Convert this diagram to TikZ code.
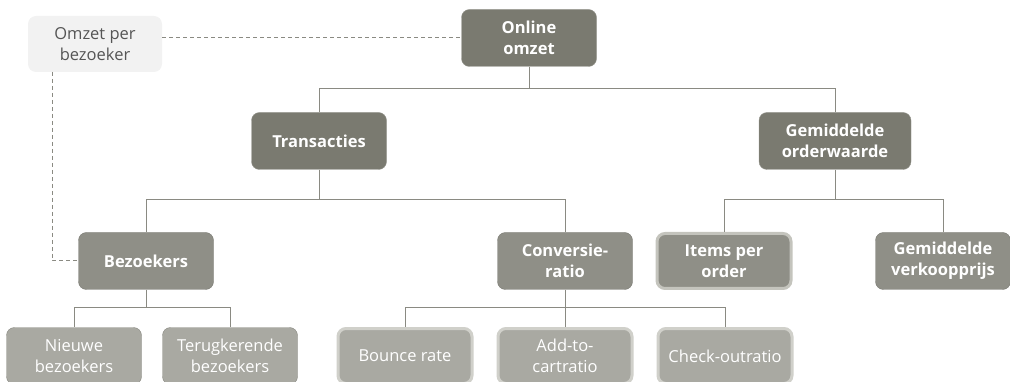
\documentclass[tikz,border=0pt]{standalone}
\usepackage{fontspec}
\setmainfont{Open Sans}
\definecolor{topgray}{HTML}{7A7A70}
\definecolor{midgray}{HTML}{8F8F87}
\definecolor{lowgray}{HTML}{A9A9A2}
\definecolor{linegray}{HTML}{8A8A82}
\definecolor{halo}{HTML}{C4C4BD}
\definecolor{notegray}{HTML}{F2F2F2}
\definecolor{notetext}{HTML}{555555}
\begin{document}
\begin{tikzpicture}[
    x=1pt, y=-1pt,
    kpi/.style={
        rectangle, rounded corners=8pt, align=center,
        minimum width=135pt, minimum height=57pt, inner xsep=4pt,
        font=\fontsize{16.5}{21}\selectfont, text=white
    },
    level1/.style={kpi, fill=topgray, draw=topgray!80!white, font=\fontsize{16.5}{21}\selectfont\bfseries},
    level2/.style={kpi, fill=midgray, draw=midgray!85!black, font=\fontsize{16.5}{21}\selectfont\bfseries},
    level2h/.style={level2, draw=halo, line width=3pt, minimum width=134pt, minimum height=55pt},
    level3/.style={kpi, fill=lowgray, draw=linegray},
    level3h/.style={level3, draw=halo!80!white, line width=3pt, minimum width=134pt, minimum height=55pt},
    note/.style={
        rectangle, rounded corners=8pt, align=center, fill=notegray,
        minimum width=134pt, minimum height=56pt,
        font=\fontsize{16.5}{21}\selectfont, text=notetext
    },
    link/.style={draw=linegray, line width=1pt},
    hint/.style={draw=linegray, line width=1pt, dash pattern=on 4pt off 3pt}
]
\useasboundingbox (0,0) rectangle (1010,382);
\clip (0,0) rectangle (1010,382);

% Top
\node[level1] (online) at (529,38) {Online\\omzet};
\node[note] (perbez) at (95,44) {Omzet per\\bezoeker};

% Second level
\node[level1] (trans) at (319,141) {Transacties};
\node[level1, minimum width=152pt] (orderw) at (835,141) {Gemiddelde\\orderwaarde};

% Third level
\node[level2] (bez) at (146,261) {Bezoekers};
\node[level2] (conv) at (565,261) {Conversie-\\ratio};
\node[level2h] (items) at (724,261) {Items per\\order};
\node[level2] (prijs) at (943,261) {Gemiddelde\\verkoopprijs};

% Bottom level
\node[level3] (nieuw) at (74,356) {Nieuwe\\bezoekers};
\node[level3] (terug) at (230,356) {Terugkerende\\bezoekers};
\node[level3h] (bounce) at (405,356) {Bounce rate};
\node[level3h] (cart) at (565,356) {Add-to-\\cartratio};
\node[level3h] (check) at (725,356) {Check-outratio};

% Tree connectors
\coordinate (j1) at (529,89);
\draw[link] (online) -- (j1);
\draw[link] (j1) -| (trans.north);
\draw[link] (j1) -| (orderw.north);

\coordinate (j2) at (319,200);
\draw[link] (trans) -- (j2);
\draw[link] (j2) -| (bez.north);
\draw[link] (j2) -| (conv.north);

\coordinate (j3) at (835,200);
\draw[link] (orderw) -- (j3);
\draw[link] (j3) -| (items.north);
\draw[link] (j3) -| (prijs.north);

\coordinate (j4) at (146,308);
\draw[link] (bez) -- (j4);
\draw[link] (j4) -| (nieuw.north);
\draw[link] (j4) -| (terug.north);

\coordinate (j5) at (565,308);
\draw[link] (conv) -- (j5);
\draw[link] (j5) -| (bounce.north);
\draw[link] (j5) -| (check.north);
\draw[link] (j5) -- (cart.north);

% Dashed relation
\draw[hint] (perbez.east |- online.west) -- (online.west);
\coordinate (d1) at (52,72);
\draw[hint] (d1) |- (bez.west);

\end{tikzpicture}
\end{document}
